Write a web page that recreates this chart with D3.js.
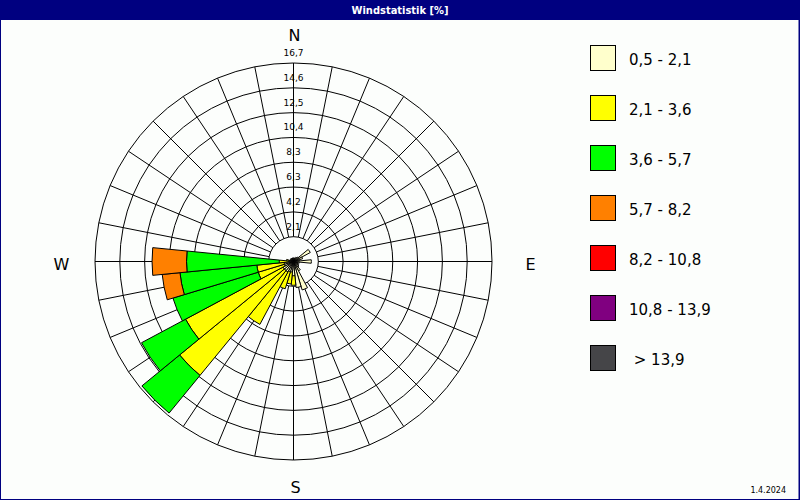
<!DOCTYPE html>
<html>
<head>
<meta charset="utf-8">
<script src="https://cdn.jsdelivr.net/npm/d3@7"></script>
<style>
  html, body { margin: 0; padding: 0; background: #fcfefc; }
  svg { display: block; }
  text { font-family: "DejaVu Sans", Verdana, sans-serif; }
</style>
</head>
<body>
<svg id="chart" width="800" height="500"></svg>
<script>
// Wind directions (compass degrees, 32 sectors)
const directions = [0, 11.25, 22.5, 33.75, 45, 56.25, 67.5, 78.75,
  90, 101.25, 112.5, 123.75, 135, 146.25, 157.5, 168.75,
  180, 191.25, 202.5, 213.75, 225, 236.25, 247.5, 258.75,
  270, 281.25, 292.5, 303.75, 315, 326.25, 337.5, 348.75];

// Wind speed classes [m/s]
const speedClasses = ["0,5 - 2,1", "2,1 - 3,6", "3,6 - 5,7", "5,7 - 8,2",
  "8,2 - 10,8", "10,8 - 13,9", " > 13,9"];
const classColors = ["#ffffcc", "#ffff00", "#00ff00", "#ff8000",
  "#ff0000", "#800080", "#454548"];

// Frequency [%] per direction for each speed class
const speed1 = [0.3, 0.3, 0.3, 0.4, 0.5, 1.6, 0.8, 0.5,
  1.5, 0.5, 0.4, 0.5, 0.6, 0.9, 2.5, 2.2,
  1.2, 0.9, 0.9, 1.0, 1.0, 1.0, 0.8, 0.8,
  0.4, 0.4, 0.3, 0.3, 0.3, 0.3, 0.3, 0.3];
const speed2 = [0, 0, 0, 0, 0, 0, 0, 0,
  0, 0, 0, 0, 0, 0, 0, 0,
  0.8, 1.0, 1.5, 5.0, 11.4, 9.3, 2.3, 2.3,
  0.8, 0.2, 0, 0, 0, 0, 0, 0];
const speed3 = [0, 0, 0, 0, 0, 0, 0, 0,
  0, 0, 0, 0, 0, 0, 0, 0,
  0, 0, 0, 0, 4.1, 4.2, 7.5, 6.5,
  7.8, 0, 0, 0, 0, 0, 0, 0];
const speed4 = [0, 0, 0, 0, 0, 0, 0, 0,
  0, 0, 0, 0, 0, 0, 0, 0,
  0, 0, 0, 0, 0, 0, 0, 1.5,
  2.9, 0, 0, 0, 0, 0, 0, 0];
const speed5 = new Array(32).fill(0);
const speed6 = new Array(32).fill(0);
const speed7 = new Array(32).fill(0);
const seriesValues = [speed1, speed2, speed3, speed4, speed5, speed6, speed7];

// Radial scale ring labels
const ringLabels = ["2,1", "4,2", "6,3", "8,3", "10,4", "12,5", "14,6", "16,7"];
const maxValue = 16.7;

const title = "Windstatistik [%]";
const dateLabel = "1.4.2024";

const svg = d3.select("#chart");
const W = 800, H = 500;
const cx = 293.5, cy = 261.5, R = 198.5;
const sectorWidth = 360 / directions.length;
const rad = Math.PI / 180;

// Background, frame and title bar
svg.append("rect").attr("x", 0).attr("y", 0).attr("width", W).attr("height", H)
  .attr("fill", "#fcfefc");
svg.append("rect").attr("x", 0.5).attr("y", 0.5).attr("width", W - 1.5).attr("height", H - 1)
  .attr("fill", "none").attr("stroke", "#000080").attr("stroke-width", 1);
svg.append("line").attr("x1", 799.5).attr("x2", 799.5).attr("y1", 0).attr("y2", H)
  .attr("stroke", "#000080");
svg.append("rect").attr("x", 0).attr("y", 0).attr("width", W).attr("height", 20)
  .attr("fill", "#000080");
svg.append("text").attr("x", 400).attr("y", 14).attr("text-anchor", "middle")
  .attr("fill", "#ffffff").attr("font-weight", "bold").attr("font-size", 11)
  .style("font-family", "'DejaVu Sans Condensed', 'DejaVu Sans', sans-serif")
  .text(title);

const r = d3.scaleLinear().domain([0, maxValue]).range([0, R]);
const ringValues = ringLabels.map((_, i) => maxValue * (i + 1) / ringLabels.length);

const g = svg.append("g").attr("transform", `translate(${cx},${cy})`);

// Grid circles
g.selectAll("circle.ring").data(ringValues).join("circle")
  .attr("class", "ring")
  .attr("r", d => r(d))
  .attr("fill", "none").attr("stroke", "#000").attr("stroke-width", 1);

// Spokes from the first ring to the outer ring
g.selectAll("line.spoke").data(directions).join("line")
  .attr("class", "spoke")
  .attr("x1", d => r(ringValues[0]) * Math.sin(d * rad))
  .attr("y1", d => -r(ringValues[0]) * Math.cos(d * rad))
  .attr("x2", d => R * Math.sin(d * rad))
  .attr("y2", d => -R * Math.cos(d * rad))
  .attr("stroke", "#000").attr("stroke-width", 1);

// Ring value labels along the north spoke
g.selectAll("text.ringlabel").data(ringValues).join("text")
  .attr("class", "ringlabel")
  .attr("x", 0).attr("y", (d) => -r(d) - 7)
  .attr("text-anchor", "middle").attr("font-size", 9).attr("fill", "#000")
  .text((d, i) => ringLabels[i]);

// Stacked wind rose sectors
const keys = speedClasses.map((_, i) => "c" + i);
const rows = directions.map((dir, i) => {
  const row = { dir };
  keys.forEach((k, j) => { row[k] = seriesValues[j][i]; });
  return row;
});
const stacked = d3.stack().keys(keys)(rows);

const arc = d3.arc();
stacked.forEach((layer, j) => {
  g.append("g").selectAll("path")
    .data(layer.filter(d => d[1] - d[0] > 0))
    .join("path")
    .attr("d", d => arc({
      innerRadius: r(d[0]),
      outerRadius: r(d[1]),
      startAngle: (d.data.dir - sectorWidth / 2) * rad,
      endAngle: (d.data.dir + sectorWidth / 2) * rad
    }))
    .attr("fill", classColors[j])
    .attr("stroke", "#000").attr("stroke-width", 1);
});

// Compass labels
const compass = [
  { t: "N", x: cx + 1, y: 41 },
  { t: "E", x: cx + 237, y: 270 },
  { t: "S", x: cx + 2, y: 493 },
  { t: "W", x: cx - 232, y: 270 }
];
svg.selectAll("text.compass").data(compass).join("text")
  .attr("class", "compass")
  .attr("x", d => d.x).attr("y", d => d.y)
  .attr("text-anchor", "middle").attr("font-size", 16).attr("fill", "#000")
  .text(d => d.t);

// Legend
const legend = svg.append("g").attr("transform", "translate(590,45)");
const items = legend.selectAll("g").data(speedClasses).join("g")
  .attr("transform", (d, i) => `translate(0,${i * 50})`);
items.append("rect")
  .attr("x", 0.5).attr("y", 0.5).attr("width", 25).attr("height", 25)
  .attr("fill", (d, i) => classColors[i])
  .attr("stroke", "#000").attr("stroke-width", 1);
items.append("text")
  .attr("x", 39).attr("y", 20)
  .attr("font-size", 15).attr("fill", "#000")
  .attr("xml:space", "preserve").style("white-space", "pre")
  .text(d => d);

// Date stamp
svg.append("text").attr("x", 786).attr("y", 493).attr("text-anchor", "end")
  .attr("font-size", 8).attr("fill", "#000").text(dateLabel);
</script>
</body>
</html>
